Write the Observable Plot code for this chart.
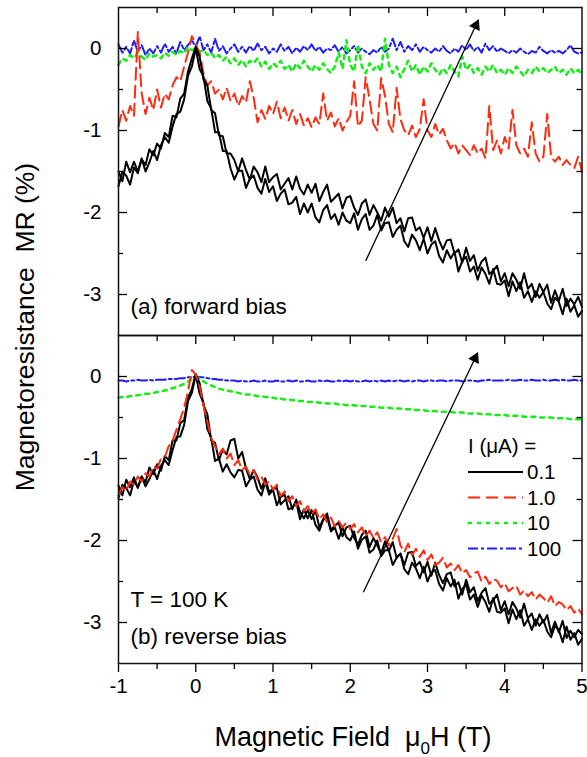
<!DOCTYPE html>
<html><head><meta charset="utf-8">
<script src="https://cdn.jsdelivr.net/npm/d3@7"></script>
<script src="https://cdn.jsdelivr.net/npm/@observablehq/plot@0.6"></script>
<style>
body{margin:0;background:#fff;}
#chart{position:relative;width:587px;height:757px;font-family:"Liberation Sans",Arial,sans-serif;color:#000;overflow:hidden;}
#chart svg{position:absolute;left:0;overflow:visible;}
.ytitle{position:absolute;width:500px;height:32px;line-height:32px;left:-225px;top:311px;text-align:center;transform:rotate(-90deg);font-size:26.5px;white-space:pre;}
.xtitle{position:absolute;width:500px;height:32px;line-height:32px;left:103px;top:721px;text-align:center;font-size:27px;white-space:pre;}
.xtitle sub{font-size:17px;vertical-align:-8px;line-height:0;}
</style>
</head><body>
<div id="chart"></div>
<script>
// ---------------- data ----------------
const field = [-1,-0.95,-0.9,-0.85,-0.8,-0.75,-0.7,-0.65,-0.6,-0.55,
-0.5,-0.45,-0.4,-0.35,-0.3,-0.25,-0.2,-0.15,-0.1,-0.05,
0,0.05,0.1,0.15,0.2,0.25,0.3,0.35,0.4,0.45,
0.5,0.55,0.6,0.65,0.7,0.75,0.8,0.85,0.9,0.95,
1,1.05,1.1,1.15,1.2,1.25,1.3,1.35,1.4,1.45,
1.5,1.55,1.6,1.65,1.7,1.75,1.8,1.85,1.9,1.95,
2,2.05,2.1,2.15,2.2,2.25,2.3,2.35,2.4,2.45,
2.5,2.55,2.6,2.65,2.7,2.75,2.8,2.85,2.9,2.95,
3,3.05,3.1,3.15,3.2,3.25,3.3,3.35,3.4,3.45,
3.5,3.55,3.6,3.65,3.7,3.75,3.8,3.85,3.9,3.95,
4,4.05,4.1,4.15,4.2,4.25,4.3,4.35,4.4,4.45,
4.5,4.55,4.6,4.65,4.7,4.75,4.8,4.85,4.9,4.95,
5];

// (a) forward bias
const fwdBlack1 = [-1.50,-1.62,-1.38,-1.51,-1.38,-1.50,-1.35,-1.42,-1.23,-1.30,
-1.16,-1.22,-1.03,-1.08,-0.82,-0.84,-0.61,-0.55,-0.28,-0.12,
0.02,-0.10,-0.38,-0.45,-0.75,-0.79,-1.06,-1.07,-1.28,-1.28,
-1.36,-1.50,-1.34,-1.48,-1.60,-1.44,-1.51,-1.63,-1.44,-1.63,
-1.57,-1.53,-1.72,-1.65,-1.58,-1.72,-1.56,-1.71,-1.78,-1.66,
-1.76,-1.65,-1.86,-1.75,-1.66,-1.87,-1.82,-1.77,-1.95,-1.82,
-1.80,-1.94,-2.03,-1.89,-1.84,-2.03,-1.91,-2.00,-2.10,-1.94,
-2.05,-1.94,-2.13,-2.07,-2.23,-2.07,-2.06,-2.22,-2.18,-2.31,
-2.18,-2.35,-2.19,-2.34,-2.45,-2.34,-2.33,-2.50,-2.45,-2.61,
-2.43,-2.59,-2.52,-2.71,-2.60,-2.55,-2.75,-2.71,-2.65,-2.84,
-2.74,-2.90,-2.74,-2.82,-2.93,-2.74,-2.93,-2.87,-3.03,-2.87,
-2.97,-2.88,-3.10,-2.95,-3.08,-2.93,-3.14,-3.05,-3.12,-3.03,
-3.15];
const fwdBlack2 = [-1.68,-1.50,-1.55,-1.66,-1.45,-1.52,-1.34,-1.50,-1.39,-1.25,
-1.36,-1.18,-1.08,-1.15,-0.95,-0.80,-0.77,-0.62,-0.33,-0.22,
0.00,-0.25,-0.34,-0.64,-0.73,-1.02,-1.02,-1.25,-1.25,-1.46,
-1.60,-1.49,-1.49,-1.70,-1.59,-1.55,-1.70,-1.77,-1.59,-1.75,
-1.68,-1.86,-1.77,-1.72,-1.90,-1.88,-1.81,-2.02,-1.89,-2.00,
-1.89,-2.06,-2.12,-1.97,-1.91,-2.08,-2.02,-2.15,-2.00,-2.10,
-2.13,-2.01,-2.21,-2.08,-2.02,-2.21,-2.16,-2.03,-2.22,-2.13,
-2.12,-2.30,-2.21,-2.16,-2.35,-2.42,-2.27,-2.34,-2.46,-2.32,
-2.50,-2.39,-2.35,-2.53,-2.61,-2.46,-2.56,-2.48,-2.72,-2.59,
-2.54,-2.72,-2.66,-2.82,-2.67,-2.75,-2.87,-2.69,-2.87,-2.88,
-2.83,-3.02,-2.84,-2.96,-2.85,-3.04,-2.96,-3.09,-2.96,-3.04,
-2.97,-3.11,-3.18,-3.04,-3.09,-3.24,-3.05,-3.21,-3.13,-3.27,
-3.20];
const fwdRed = [-0.95,-0.75,-0.88,-0.70,-0.82,0.20,-0.55,-0.80,-0.60,-0.75,
-0.50,-0.72,-0.55,-0.62,-0.45,-0.35,-0.40,-0.22,-0.05,0.15,
0.05,-0.05,-0.30,-0.45,-0.40,-0.55,-0.50,-0.62,-0.48,-0.64,
-0.55,-0.70,-0.58,-0.66,-0.40,-0.60,-0.90,-0.75,-0.86,-0.70,
-0.80,-0.65,-0.85,-0.72,-0.88,-0.75,-0.92,-0.80,-0.94,-0.85,
-0.96,-0.84,-0.92,-0.55,-0.88,-0.78,-0.95,-0.85,-1.00,-0.90,
-0.82,-0.40,-0.95,-0.88,-0.35,-0.62,-0.92,-1.00,-0.36,-0.58,
-0.92,-1.02,-0.48,-0.86,-1.00,-1.06,-0.94,-1.08,-0.98,-0.62,
-1.00,-1.08,-0.92,-1.05,-0.98,-1.12,-1.22,-1.15,-1.28,-1.18,
-1.24,-1.30,-1.18,-1.28,-1.22,-1.34,-0.70,-1.24,-1.12,-1.28,
-1.08,-1.22,-0.75,-1.18,-1.28,-1.22,-1.32,-0.90,-1.28,-1.38,
-1.32,-0.80,-1.32,-1.38,-1.32,-1.42,-1.36,-1.42,-1.46,-1.32,
-1.50];
const fwdGreen = [-0.20,-0.12,-0.15,-0.08,-0.12,-0.05,-0.10,-0.14,-0.06,-0.10,
-0.08,-0.12,-0.05,-0.09,-0.04,-0.08,-0.03,-0.06,0.02,-0.02,
0.00,-0.04,-0.02,-0.08,-0.05,-0.12,-0.08,-0.15,-0.10,-0.18,
-0.12,-0.20,-0.14,-0.22,-0.15,-0.18,-0.12,-0.22,-0.16,-0.25,
-0.18,-0.22,-0.15,-0.25,-0.20,-0.28,-0.18,-0.24,-0.15,-0.22,
-0.28,-0.20,-0.26,-0.18,-0.25,-0.30,-0.22,-0.05,-0.25,0.10,
-0.20,-0.28,0.05,-0.22,-0.30,-0.18,-0.26,-0.20,-0.28,0.12,
-0.20,-0.30,-0.22,-0.35,-0.25,-0.15,-0.28,-0.20,-0.32,-0.22,
-0.28,-0.18,-0.26,-0.32,-0.24,-0.30,-0.20,-0.28,-0.34,-0.10,
-0.26,-0.20,-0.30,-0.24,-0.32,-0.22,-0.28,-0.20,-0.30,-0.26,
-0.32,-0.24,-0.30,-0.22,-0.28,-0.34,-0.26,-0.30,-0.22,-0.28,
-0.24,-0.30,-0.26,-0.22,-0.30,-0.26,-0.32,-0.24,-0.30,-0.26,
-0.32];
const fwdBlue = [0.05,-0.05,0.02,-0.06,0.10,-0.04,0.04,-0.08,0.00,-0.06,
0.03,-0.05,0.06,-0.04,0.02,-0.06,0.08,-0.02,0.04,0.10,
0.02,0.15,-0.02,0.05,-0.05,0.12,-0.03,0.03,-0.06,0.00,
0.05,-0.04,0.02,-0.05,0.03,-0.03,0.06,-0.02,0.02,-0.06,
0.00,-0.04,0.05,-0.03,0.02,-0.06,0.01,-0.04,0.03,-0.02,
0.05,-0.03,0.02,-0.05,0.00,-0.02,0.04,-0.04,0.02,-0.06,
-0.02,0.03,-0.05,0.00,-0.04,-0.07,-0.02,-0.05,0.02,-0.04,
0.00,0.12,-0.02,0.08,-0.04,0.03,-0.02,0.05,-0.04,0.02,
-0.02,-0.05,0.00,-0.04,0.03,-0.03,-0.06,0.00,-0.04,0.04,
-0.02,0.05,-0.03,0.02,-0.05,0.06,-0.02,0.03,-0.04,0.00,
-0.03,-0.06,-0.02,-0.05,0.00,-0.04,-0.07,-0.03,-0.05,0.02,
-0.03,-0.06,-0.02,-0.05,-0.03,-0.06,-0.02,0.04,-0.04,-0.06,
-0.05];

// (b) reverse bias
const revBlack1 = [-1.33,-1.45,-1.26,-1.35,-1.23,-1.36,-1.22,-1.29,-1.11,-1.19,
-1.07,-1.15,-0.97,-1.02,-0.78,-0.78,-0.57,-0.53,-0.26,-0.15,
0.03,-0.08,-0.35,-0.46,-0.78,-0.81,-1.02,-0.89,-0.95,-0.78,
-0.76,-1.00,-0.92,-1.12,-1.25,-1.14,-1.23,-1.37,-1.24,-1.41,
-1.37,-1.36,-1.56,-1.51,-1.46,-1.62,-1.50,-1.65,-1.73,-1.63,
-1.74,-1.63,-1.84,-1.74,-1.67,-1.87,-1.82,-1.78,-1.95,-1.84,
-1.82,-1.97,-2.05,-1.93,-1.88,-2.08,-1.97,-2.06,-2.16,-2.01,
-2.13,-2.02,-2.21,-2.16,-2.30,-2.15,-2.14,-2.31,-2.26,-2.39,
-2.26,-2.43,-2.27,-2.42,-2.52,-2.41,-2.39,-2.56,-2.51,-2.66,
-2.48,-2.63,-2.57,-2.74,-2.64,-2.58,-2.77,-2.73,-2.66,-2.85,
-2.74,-2.90,-2.75,-2.83,-2.94,-2.77,-2.95,-2.89,-3.04,-2.90,
-3.00,-2.91,-3.13,-2.99,-3.12,-2.98,-3.19,-3.10,-3.18,-3.09,
-3.14];
const revBlack2 = [-1.48,-1.32,-1.36,-1.45,-1.27,-1.35,-1.22,-1.34,-1.25,-1.14,
-1.25,-1.09,-1.02,-1.08,-0.90,-0.74,-0.73,-0.59,-0.30,-0.20,
0.02,-0.21,-0.32,-0.64,-0.75,-1.03,-1.00,-1.16,-1.07,-1.17,
-1.23,-1.14,-1.15,-1.34,-1.26,-1.22,-1.38,-1.45,-1.29,-1.44,
-1.38,-1.57,-1.47,-1.44,-1.62,-1.60,-1.53,-1.74,-1.62,-1.73,
-1.63,-1.81,-1.88,-1.75,-1.71,-1.89,-1.84,-1.98,-1.84,-1.96,
-2.00,-1.89,-2.10,-1.99,-1.95,-2.15,-2.11,-2.00,-2.19,-2.12,
-2.12,-2.30,-2.21,-2.16,-2.35,-2.41,-2.27,-2.34,-2.46,-2.32,
-2.50,-2.39,-2.36,-2.53,-2.61,-2.46,-2.56,-2.48,-2.71,-2.59,
-2.54,-2.72,-2.66,-2.81,-2.67,-2.75,-2.87,-2.70,-2.87,-2.88,
-2.83,-3.01,-2.84,-2.96,-2.85,-3.04,-2.96,-3.09,-2.96,-3.04,
-2.97,-3.11,-3.18,-3.04,-3.09,-3.24,-3.05,-3.21,-3.13,-3.27,
-3.20];
const revRed = [-1.45,-1.35,-1.40,-1.28,-1.32,-1.22,-1.28,-1.18,-1.22,-1.10,
-1.12,-1.00,-0.98,-0.85,-0.78,-0.65,-0.52,-0.38,-0.18,0.08,
0.02,-0.12,-0.35,-0.55,-0.75,-0.85,-0.95,-0.88,-1.00,-0.94,
-1.08,-1.02,-1.14,-1.10,-1.20,-1.14,-1.26,-1.22,-1.32,-1.28,
-1.38,-1.32,-1.46,-1.40,-1.52,-1.46,-1.58,-1.52,-1.64,-1.58,
-1.68,-1.62,-1.74,-1.68,-1.78,-1.72,-1.83,-1.76,-1.84,-1.78,
-1.86,-1.80,-1.90,-1.84,-1.95,-1.88,-1.97,-1.90,-2.02,-1.96,
-2.06,-1.98,-1.86,-2.06,-2.14,-2.04,-2.18,-2.10,-2.20,-2.12,
-2.24,-2.17,-2.30,-2.27,-2.21,-2.33,-2.28,-2.36,-2.30,-2.40,
-2.36,-2.45,-2.40,-2.38,-2.50,-2.44,-2.53,-2.47,-2.49,-2.57,
-2.52,-2.62,-2.58,-2.55,-2.66,-2.61,-2.68,-2.63,-2.72,-2.66,
-2.70,-2.76,-2.68,-2.80,-2.75,-2.78,-2.85,-2.80,-2.88,-2.83,
-2.90];
const revGreen = [-0.26,-0.25,-0.25,-0.24,-0.23,-0.23,-0.22,-0.21,-0.21,-0.20,
-0.19,-0.18,-0.17,-0.16,-0.14,-0.13,-0.11,-0.09,-0.06,-0.03,
0.00,-0.03,-0.06,-0.09,-0.11,-0.13,-0.15,-0.16,-0.17,-0.18,
-0.19,-0.20,-0.21,-0.22,-0.22,-0.23,-0.24,-0.24,-0.25,-0.25,
-0.26,-0.27,-0.27,-0.28,-0.28,-0.29,-0.29,-0.30,-0.30,-0.31,
-0.31,-0.31,-0.32,-0.32,-0.33,-0.33,-0.33,-0.34,-0.34,-0.35,
-0.35,-0.35,-0.36,-0.36,-0.36,-0.37,-0.37,-0.37,-0.38,-0.38,
-0.38,-0.39,-0.39,-0.39,-0.40,-0.40,-0.40,-0.41,-0.41,-0.41,
-0.42,-0.42,-0.42,-0.43,-0.43,-0.43,-0.43,-0.44,-0.44,-0.44,
-0.45,-0.45,-0.45,-0.45,-0.46,-0.46,-0.46,-0.47,-0.47,-0.47,
-0.47,-0.48,-0.48,-0.48,-0.48,-0.49,-0.49,-0.49,-0.49,-0.50,
-0.50,-0.50,-0.50,-0.51,-0.51,-0.51,-0.51,-0.52,-0.52,-0.52,
-0.52];
const revBlue = [-0.05,-0.05,-0.06,-0.05,-0.05,-0.04,-0.05,-0.05,-0.04,-0.05,
-0.04,-0.04,-0.04,-0.03,-0.03,-0.03,-0.02,-0.02,-0.01,-0.01,
0.00,-0.01,-0.01,-0.02,-0.03,-0.03,-0.04,-0.04,-0.05,-0.05,
-0.05,-0.06,-0.05,-0.06,-0.06,-0.05,-0.06,-0.06,-0.05,-0.06,
-0.06,-0.05,-0.06,-0.06,-0.05,-0.06,-0.05,-0.06,-0.06,-0.05,
-0.06,-0.06,-0.05,-0.06,-0.05,-0.06,-0.06,-0.05,-0.06,-0.05,
-0.06,-0.05,-0.06,-0.06,-0.05,-0.06,-0.05,-0.06,-0.05,-0.06,
-0.05,-0.06,-0.05,-0.05,-0.06,-0.05,-0.06,-0.05,-0.05,-0.06,
-0.05,-0.05,-0.06,-0.05,-0.05,-0.06,-0.05,-0.05,-0.05,-0.06,
-0.05,-0.05,-0.05,-0.06,-0.05,-0.05,-0.04,-0.05,-0.05,-0.05,
-0.05,-0.04,-0.05,-0.05,-0.04,-0.05,-0.05,-0.04,-0.05,-0.05,
-0.04,-0.05,-0.05,-0.04,-0.05,-0.04,-0.05,-0.05,-0.04,-0.05,
-0.05];

// legend / series styling
const currents = ["0.1", "1.0", "10", "100"];
const seriesColors = ["#000000", "#ff2a0f", "#14ee14", "#1e1efa"];
const seriesDash = ["none", "12,6", "4,5", "10,3,3,3"];
const seriesWidth = [2, 2, 2.5, 2];

// ticks
const xMajor = [-1, 0, 1, 2, 3, 4, 5];
const xMinor = [-0.5, 0.5, 1.5, 2.5, 3.5, 4.5];
const yMajor = [0, -1, -2, -3];
const yMinor = [-0.5, -1.5, -2.5];

// annotations
const arrowA = [{x1: 2.20, y1: -2.59, x2: 3.66, y2: 0.35}];
const arrowB = [{x1: 2.17, y1: -2.63, x2: 3.65, y2: 0.29}];
const labelA = ["(a) forward bias"];
const labelT = ["T = 100 K"];
const labelB = ["(b) reverse bias"];

// ---------------- layout ----------------
const W = 587, ML = 118, MR = 5.5;
const plotW = W - ML - MR, plotH = 328;
const xDomain = [-1, 5], yDomain = [-3.5, 0.5];
const FONT = '"Liberation Sans", Arial, sans-serif';

const series = vals => field.map((x, i) => ({x, y: vals[i]}));
function curve(vals, k) {
  return Plot.line(series(vals), {x: "x", y: "y", stroke: seriesColors[k],
    strokeWidth: seriesWidth[k], strokeDasharray: seriesDash[k] === "none" ? null : seriesDash[k],
    strokeLinejoin: "round"});
}
function arrowMarks(a) {
  const d = a[0];
  const kx = plotW / (xDomain[1] - xDomain[0]), ky = plotH / (yDomain[1] - yDomain[0]);
  const th = Math.atan2((d.x2 - d.x1) * kx, (d.y2 - d.y1) * ky);
  const r = 4.4;
  const tip = 2 * Math.sqrt(Math.PI * r * r / (3 * Math.sqrt(3)));
  return [
    Plot.link(a, {x1: "x1", y1: "y1", x2: "x2", y2: "y2", stroke: "#000", strokeWidth: 1.3}),
    Plot.dot(a, {x: "x2", y: "y2", symbol: "triangle", r, fill: "#000", stroke: null,
      rotate: th * 180 / Math.PI, dx: -tip * Math.sin(th) * 0.9, dy: tip * Math.cos(th) * 0.9})
  ];
}
function frameTicks() {
  return [
    Plot.tickY(yMajor, {insetRight: plotW - 9, strokeWidth: 1.3}),
    Plot.tickY(yMinor, {insetRight: plotW - 5, strokeWidth: 1.3}),
    Plot.tickY(yMajor, {insetLeft: plotW - 9, strokeWidth: 1.3}),
    Plot.tickY(yMinor, {insetLeft: plotW - 5, strokeWidth: 1.3}),
    Plot.tickX(xMajor.slice(1, -1), {insetBottom: plotH - 9, strokeWidth: 1.3}),
    Plot.tickX(xMinor, {insetBottom: plotH - 6, strokeWidth: 1.3}),
    Plot.frame({stroke: "#111", strokeWidth: 1.5})
  ];
}
const yAxis = () => Plot.axisY({ticks: yMajor, tickSize: 0, tickPadding: 17,
  tickFormat: d => String(d), label: null, fontSize: 20.5});
const style = {fontFamily: FONT, fontSize: "20px", background: "transparent", overflow: "visible", color: "#000"};
const annot = (lbl, dy) => Plot.text(lbl, {frameAnchor: "bottom-left", dx: 12, dy,
  textAnchor: "start", lineAnchor: "bottom", fontSize: 22.5});

const chart = document.getElementById("chart");

const plotA = Plot.plot({
  width: W, height: 7 + plotH, marginLeft: ML, marginRight: MR, marginTop: 7, marginBottom: 0,
  x: {domain: xDomain, axis: null}, y: {domain: yDomain}, style,
  marks: [
    curve(fwdBlue, 3), curve(fwdGreen, 2), curve(fwdRed, 1),
    curve(fwdBlack1, 0), curve(fwdBlack2, 0),
    ...arrowMarks(arrowA),
    annot(labelA, -22),
    ...frameTicks(), yAxis()
  ]
});
plotA.style.top = "0px";
chart.appendChild(plotA);

const plotB = Plot.plot({
  width: W, height: 757 - 335, marginLeft: ML, marginRight: MR, marginTop: 0, marginBottom: 757 - 335 - plotH,
  x: {domain: xDomain}, y: {domain: yDomain}, style,
  marks: [
    curve(revBlue, 3), curve(revGreen, 2),
    curve(revBlack1, 0), curve(revBlack2, 0), curve(revRed, 1),
    ...arrowMarks(arrowB),
    annot(labelT, -57), annot(labelB, -20),
    ...frameTicks(), yAxis(),
    Plot.axisX({anchor: "bottom", ticks: xMajor, tickSize: 9, tickPadding: 6, tickFormat: d => String(d), label: null, fontSize: 20.5, strokeWidth: 1.3}),
    Plot.axisX({anchor: "bottom", ticks: xMinor, tickSize: 6, tickFormat: () => "", label: null, strokeWidth: 1.3})
  ]
});
plotB.style.top = "335px";
chart.appendChild(plotB);

// legend
const leg = d3.select(chart).append("svg")
  .attr("width", 130).attr("height", 135)
  .style("left", "440px").style("top", "430px")
  .style("font-family", FONT);
leg.append("text").attr("x", 28).attr("y", 23).attr("font-size", 20.5).text("I (\u03bcA) =");
currents.forEach((c, k) => {
  const y = 42 + k * 25.5;
  leg.append("line").attr("x1", 28).attr("x2", 83).attr("y1", y).attr("y2", y)
    .attr("stroke", seriesColors[k]).attr("stroke-width", seriesWidth[k])
    .attr("stroke-dasharray", seriesDash[k] === "none" ? null : seriesDash[k]);
  leg.append("text").attr("x", 87).attr("y", y + 7).attr("font-size", 20.5).text(c);
});

// axis titles
const yt = document.createElement("div");
yt.className = "ytitle";
yt.textContent = "Magnetoresistance  MR (%)";
chart.appendChild(yt);
const xt = document.createElement("div");
xt.className = "xtitle";
xt.innerHTML = "Magnetic Field  \u03bc<sub>0</sub>H (T)";
chart.appendChild(xt);
</script>
</body></html>
